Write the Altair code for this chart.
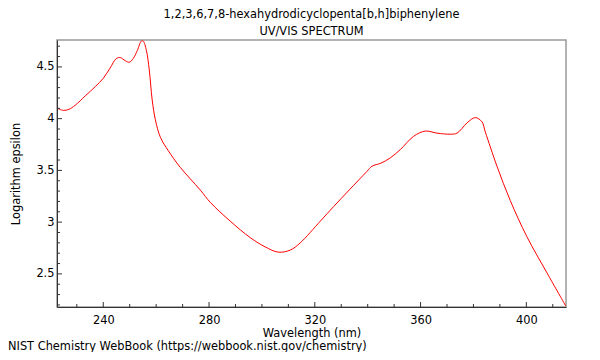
import altair as alt
import pandas as pd

wavelength = [222.6, 224.9, 227.0, 229.4, 233.2, 237.0, 240.0, 242.6, 244.9, 246.4, 248.3, 249.8,
              251.3, 252.9, 254.4, 255.1, 256.3, 257.4, 258.5, 259.7, 261.6, 264.6, 269.1,
              276.7, 280.5, 288.0, 295.6, 301.3, 306.2, 310.7, 314.5, 322.1, 327.1, 333.0,
              339.7, 341.6, 345.0, 348.5, 352.3, 357.4, 361.8, 366.2, 371.2, 373.8, 377.6,
              380.7, 383.2, 384.5, 388.9, 393.9, 400.2, 407.8, 414.9]
log_eps = [4.10, 4.08, 4.09, 4.13, 4.22, 4.31, 4.39, 4.49, 4.58, 4.59, 4.56, 4.545,
           4.58, 4.66, 4.75, 4.75, 4.66, 4.47, 4.18, 3.99, 3.82, 3.69, 3.53,
           3.31, 3.19, 3.01, 2.85, 2.76, 2.71, 2.73, 2.80, 3.01, 3.15, 3.31,
           3.49, 3.54, 3.57, 3.62, 3.70, 3.83, 3.88, 3.86, 3.85, 3.86, 3.96,
           4.01, 3.97, 3.87, 3.54, 3.21, 2.86, 2.51, 2.19]

x_major = [240, 280, 320, 360, 400]
x_minor = [230, 250, 260, 270, 290, 300, 310, 330, 340, 350, 370, 380, 390, 410]
y_major = [2.5, 3.0, 3.5, 4.0, 4.5]
y_minor = [2.2, 2.3, 2.4, 2.6, 2.7, 2.8, 2.9, 3.1, 3.2, 3.3, 3.4, 3.6, 3.7, 3.8, 3.9,
           4.1, 4.2, 4.3, 4.4, 4.6, 4.7]

title_lines = ["1,2,3,6,7,8-hexahydrodicyclopenta[b,h]biphenylene", "UV/VIS SPECTRUM"]
footer = "NIST Chemistry WebBook (https://webbook.nist.gov/chemistry)"

FONT = "DejaVu Sans"
FS = 11.4
W, H = 509, 267
X_DOM = [222.5, 415.0]
Y_DOM = [2.18, 4.76]

df = pd.DataFrame({"wl": wavelength, "le": log_eps})
xs = alt.Scale(domain=X_DOM, nice=False, zero=False)
ys = alt.Scale(domain=Y_DOM, nice=False, zero=False)

xa = alt.Axis(values=x_major, title="Wavelength (nm)", grid=False, ticks=False, domainColor="#333333",
              labelFont=FONT, labelFontSize=FS, labelColor="#000000", labelPadding=7,
              titleFont=FONT, titleFontSize=FS, titleFontWeight="normal", titleColor="#000000",
              titlePadding=2)
ya = alt.Axis(values=y_major, format=".1~f", title="Logarithm epsilon", grid=False, ticks=False,
              domainColor="#333333", labelFont=FONT, labelFontSize=FS, labelColor="#000000",
              labelPadding=3, titleFont=FONT, titleFontSize=FS, titleFontWeight="normal",
              titleColor="#000000", titlePadding=14)

line = alt.Chart(df).mark_line(color="#ff0000", strokeWidth=1, interpolate="catmull-rom", clip=True).encode(
    x=alt.X("wl:Q", scale=xs, axis=xa),
    y=alt.Y("le:Q", scale=ys, axis=ya),
)

def xticks(vals, length):
    return alt.Chart(pd.DataFrame({"wl": vals})).mark_rule(color="#333333", strokeWidth=1).encode(
        x=alt.X("wl:Q", scale=xs, axis=xa), y=alt.value(H), y2=alt.value(H - length))

def yticks(vals, length):
    return alt.Chart(pd.DataFrame({"le": vals})).mark_rule(color="#333333", strokeWidth=1).encode(
        y=alt.Y("le:Q", scale=ys, axis=ya), x=alt.value(0), x2=alt.value(length))

foot = alt.Chart(pd.DataFrame({"t": [footer]})).mark_text(
    font=FONT, fontSize=FS, align="left", baseline="middle", color="#000000").encode(
    text="t:N", x=alt.value(-49), y=alt.value(307))

chart = alt.layer(
    line, xticks(x_major, 5), xticks(x_minor, 3), yticks(y_major, 5), yticks(y_minor, 3), foot
).properties(
    width=W, height=H,
    title=alt.TitleParams(text=title_lines, font=FONT, fontSize=FS, fontWeight="normal",
                          color="#000000", anchor="middle", lineHeight=17, offset=3),
    autosize=alt.AutoSizeParams(type="none"),
    padding={"left": 49, "top": 32, "right": 26, "bottom": 45},
).configure_view(stroke="#999999", strokeWidth=1.5)

chart.save("out.html", embed_options={"renderer": "svg", "actions": False})
